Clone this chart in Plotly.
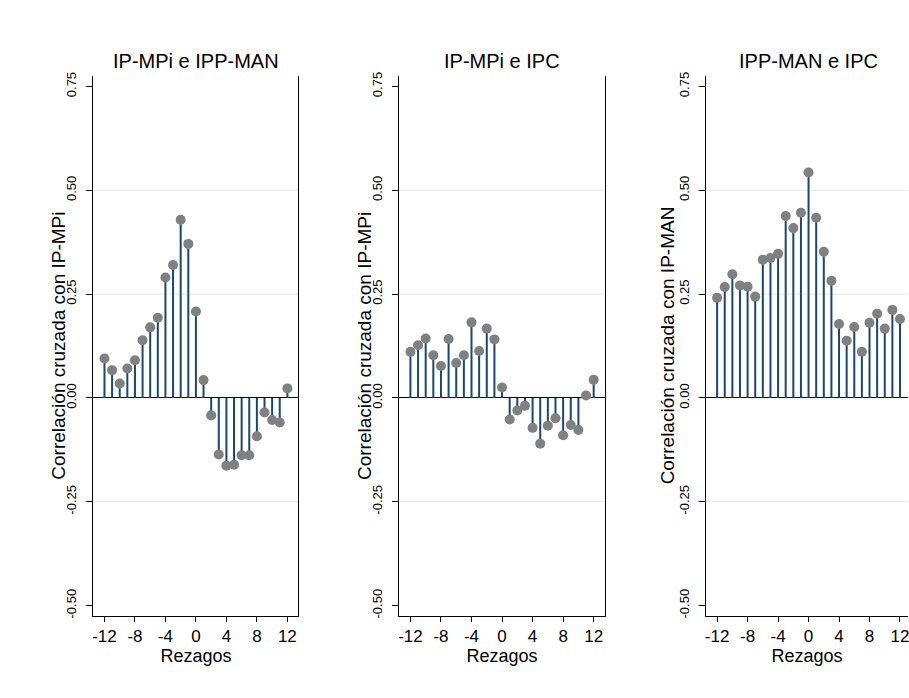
import plotly.graph_objects as go

# ---------------- data ----------------
lags = list(range(-12, 13))

ccf_mpi_ippman = [0.095, 0.067, 0.035, 0.071, 0.091, 0.139, 0.170, 0.193, 0.290, 0.320,
                  0.429, 0.371, 0.208, 0.043, -0.042, -0.136, -0.163, -0.161, -0.138, -0.138,
                  -0.092, -0.035, -0.053, -0.059, 0.023]
ccf_mpi_ipc = [0.111, 0.127, 0.143, 0.103, 0.077, 0.142, 0.084, 0.103, 0.182, 0.113,
               0.167, 0.141, 0.025, -0.052, -0.030, -0.019, -0.072, -0.110, -0.067, -0.049,
               -0.090, -0.065, -0.077, 0.006, 0.044]
ccf_ippman_ipc = [0.241, 0.267, 0.298, 0.271, 0.268, 0.244, 0.333, 0.337, 0.347, 0.438,
                  0.409, 0.446, 0.543, 0.434, 0.352, 0.282, 0.178, 0.138, 0.171, 0.111,
                  0.181, 0.203, 0.167, 0.212, 0.190]

panel_titles = ["IP-MPi e IPP-MAN", "IP-MPi e IPC", "IPP-MAN e IPC"]
y_titles = ["Correlación cruzada con IP-MPi", "Correlación cruzada con IP-MPi",
            "Correlación cruzada con IP-MAN"]
x_title = "Rezagos"
x_ticks = [-12, -8, -4, 0, 4, 8, 12]
x_ticklabels = ["-12", "-8", "-4", "0", "4", "8", "12"]
y_ticks = [-0.50, -0.25, 0.00, 0.25, 0.50, 0.75]
y_ticklabels = ["-0.50", "-0.25", "0.00", "0.25", "0.50", "0.75"]
grid_vals = [-0.25, 0.25, 0.50]

series = [ccf_mpi_ippman, ccf_mpi_ipc, ccf_ippman_ipc]

# ---------------- layout geometry (pixels) ----------------
W, H = 909, 698
FONT = "Liberation Sans, Arial, sans-serif"
STEM = "#1a476f"
MARK = "#808080"

panels_px = [(92.7, 298.0), (399.3, 605.0), (706.7, 909.0)]
ytitle_x_px = [58, 365, 668]
x_ranges = [[-13.44, 13.44], [-13.44, 13.44], [-13.44, 13.05]]
y_top_px, y_bot_px = 72.3, 617.3
y_range = [-0.525, 0.776]
ydom = [1 - y_bot_px / H, 1 - y_top_px / H]

fig = go.Figure()
layout = dict(
    width=W, height=H,
    margin=dict(l=0, r=0, t=0, b=0),
    paper_bgcolor="white", plot_bgcolor="white",
    showlegend=False,
    font=dict(family=FONT, color="black"),
)
annotations = []
shapes = []

for i, (vals, (x0, x1)) in enumerate(zip(series, panels_px)):
    sfx = "" if i == 0 else str(i + 1)
    xa, ya = "x" + sfx, "y" + sfx

    # stems
    sx, sy = [], []
    for l, v in zip(lags, vals):
        sx += [l, l, None]
        sy += [0, v, None]
    fig.add_trace(go.Scatter(x=sx, y=sy, mode="lines", line=dict(color=STEM, width=2),
                             xaxis=xa, yaxis=ya, hoverinfo="skip"))
    fig.add_trace(go.Scatter(x=lags, y=vals, mode="markers",
                             marker=dict(color=MARK, size=10, line=dict(width=0)),
                             xaxis=xa, yaxis=ya))

    layout["xaxis" + sfx] = dict(
        domain=[x0 / W, min(x1 / W, 1.0)], range=x_ranges[i], anchor=ya,
        tickvals=x_ticks, ticktext=x_ticklabels, ticks="outside", ticklen=5,
        tickcolor="black", ticklabeloverflow="allow",
        tickfont=dict(size=17, family=FONT), showgrid=False, zeroline=False,
        showline=True, linecolor="black", linewidth=1, mirror=False,
        title=dict(text=x_title, font=dict(size=18, family=FONT), standoff=4),
    )
    layout["yaxis" + sfx] = dict(
        domain=ydom, range=y_range, anchor=xa,
        tickvals=y_ticks, ticktext=y_ticklabels, tickangle=-90,
        ticks="outside", ticklen=6, tickcolor="black", ticklabelstandoff=5,
        tickfont=dict(size=13, family=FONT), showgrid=False,
        zeroline=True, zerolinecolor="black", zerolinewidth=1,
        showline=True, linecolor="black", linewidth=1, mirror=(i < 2),
    )
    for g in grid_vals:
        shapes.append(dict(type="line", xref=xa + " domain", yref=ya,
                           x0=0, x1=1, y0=g, y1=g,
                           line=dict(color="#e8e8e8", width=1), layer="below"))
    annotations.append(dict(text=panel_titles[i], xref="paper", yref="paper",
                            x=((x0 + x1) / 2) / W if i < 2 else ((x0 + 912) / 2) / W,
                            y=1 - 57 / H, xanchor="center", yanchor="middle",
                            showarrow=False, font=dict(size=20, family=FONT)))
    annotations.append(dict(text=y_titles[i], xref="paper", yref="paper",
                            x=ytitle_x_px[i] / W, y=(ydom[0] + ydom[1]) / 2,
                            xanchor="center", yanchor="middle", textangle=-90,
                            showarrow=False, font=dict(size=19, family=FONT)))

layout["annotations"] = annotations
layout["shapes"] = shapes
fig.update_layout(**layout)
fig.write_html("out.html")
